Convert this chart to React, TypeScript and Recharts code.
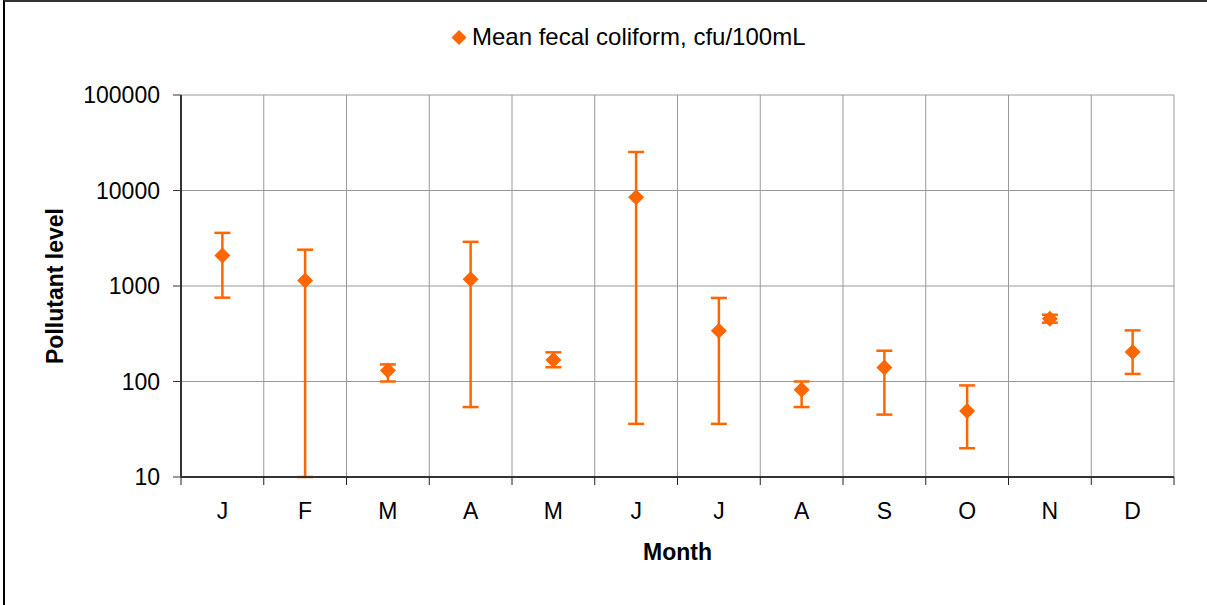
import React from 'react';
import { ComposedChart, Line, XAxis, YAxis, CartesianGrid, ErrorBar, Label } from 'recharts';

const MONTHS = ['J', 'F', 'M', 'A', 'M', 'J', 'J', 'A', 'S', 'O', 'N', 'D'];
const MEAN = [2080, 1140, 130, 1175, 168, 8500, 340, 82, 140, 49, 455, 204];
const UPPER = [3600, 2400, 151, 2900, 202, 25300, 750, 100, 210, 91, 500, 343];
const LOWER = [755, 10, 100, 54, 141, 36, 36, 54, 45, 20, 413, 120];
const Y_TICKS = [10, 100, 1000, 10000, 100000];
const SERIES_NAME = 'Mean fecal coliform, cfu/100mL';

const data = MONTHS.map((m, i) => ({
  month: m,
  mean: MEAN[i],
  err: [MEAN[i] - LOWER[i], UPPER[i] - MEAN[i]],
}));

const W = 1207;
const H = 605;
const MARGIN = { top: 95, right: 33, bottom: 0, left: 0 };
const Y_AXIS_W = 181;
const X_AXIS_H = 128;
const PLOT_W = W - MARGIN.left - MARGIN.right - Y_AXIS_W;
const AXIS_Y = H - MARGIN.bottom - X_AXIS_H;
const BAND = PLOT_W / MONTHS.length;

const ORANGE = '#FF6600';
const FONT = '"Liberation Sans", Arial, sans-serif';

const XTick = (props: any) => {
  const { x, payload, index } = props;
  const last = index === MONTHS.length - 1;
  return (
    <g>
      <line x1={x - BAND / 2} y1={AXIS_Y} x2={x - BAND / 2} y2={AXIS_Y + 8} stroke="#222" strokeWidth={1} />
      {last && <line x1={x + BAND / 2} y1={AXIS_Y} x2={x + BAND / 2} y2={AXIS_Y + 8} stroke="#222" strokeWidth={1} />}
      <text x={x} y={AXIS_Y + 42} textAnchor="middle" fontSize={23} fontFamily={FONT} fill="#000">
        {payload.value}
      </text>
    </g>
  );
};

const Diamond = (props: any) => {
  const { cx, cy } = props;
  if (cx == null || cy == null) return null;
  const r = 8;
  return <path d={`M${cx},${cy - r}L${cx + r},${cy}L${cx},${cy + r}L${cx - r},${cy}Z`} fill={ORANGE} />;
};

export default function App() {
  return (
    <div style={{ position: 'absolute', left: 0, top: 0, width: W, height: H, overflow: 'hidden', background: '#fff' }}>
      <div
        style={{
          position: 'absolute',
          left: 3,
          top: 0,
          width: W,
          height: H,
          borderLeft: '2px solid #000',
          borderTop: '2px solid #333',
          boxSizing: 'border-box',
        }}
      />
      <div style={{ position: 'absolute', left: 0, top: 0 }}>
        <ComposedChart width={W} height={H} data={data} margin={MARGIN}>
          <CartesianGrid
            stroke="#999"
            strokeWidth={1}
            verticalCoordinatesGenerator={({ offset }: any) =>
              Array.from({ length: MONTHS.length + 1 }, (_, i) => offset.left + (i * offset.width) / MONTHS.length)
            }
          />
          <XAxis
            dataKey="month"
            type="category"
            allowDuplicatedCategory
            interval={0}
            padding={{ left: BAND / 2, right: BAND / 2 }}
            height={X_AXIS_H}
            tickLine={false}
            axisLine={{ stroke: '#333', strokeWidth: 2 }}
            tick={<XTick />}
          >
            <Label
              content={({ viewBox }: any) => (
                <text
                  x={viewBox.x + viewBox.width / 2}
                  y={viewBox.y + 83}
                  textAnchor="middle"
                  fontSize={23}
                  fontWeight="bold"
                  fontFamily={FONT}
                  fill="#000"
                >
                  Month
                </text>
              )}
            />
          </XAxis>
          <YAxis
            type="number"
            scale="log"
            domain={[10, 100000]}
            ticks={Y_TICKS}
            allowDataOverflow
            width={Y_AXIS_W}
            tickSize={8}
            tickMargin={13}
            axisLine={{ stroke: '#333', strokeWidth: 2 }}
            tickLine={{ stroke: '#333' }}
            tick={{ fontSize: 23, fill: '#000', fontFamily: FONT }}
          >
            <Label
              content={({ viewBox }: any) => {
                const cx = 63;
                const cy = viewBox.y + viewBox.height / 2;
                return (
                  <text
                    x={cx}
                    y={cy}
                    transform={`rotate(-90, ${cx}, ${cy})`}
                    textAnchor="middle"
                    fontSize={23}
                    fontWeight="bold"
                    fontFamily={FONT}
                    fill="#000"
                  >
                    Pollutant level
                  </text>
                );
              }}
            />
          </YAxis>
          <Line
            dataKey="mean"
            name={SERIES_NAME}
            stroke="none"
            dot={<Diamond />}
            activeDot={false}
            isAnimationActive={false}
          >
            <ErrorBar dataKey="err" direction="y" width={8} stroke={ORANGE} strokeWidth={2.5} />
          </Line>
        </ComposedChart>
      </div>
      <svg width={W} height={H} style={{ position: 'absolute', left: 0, top: 0, pointerEvents: 'none' }}>
        <path d="M459,30L466.5,37.5L459,45L451.5,37.5Z" fill={ORANGE} />
        <text x={472} y={45} fontSize={24} fontFamily={FONT} fill="#000">
          {SERIES_NAME}
        </text>
      </svg>
    </div>
  );
}
